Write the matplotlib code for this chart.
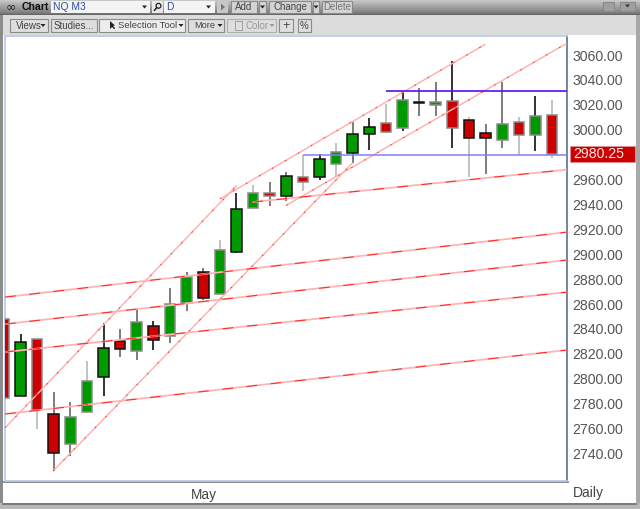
import matplotlib
matplotlib.use("Agg")
import matplotlib.pyplot as plt
from matplotlib.patches import Rectangle, Polygon, Circle

plt.rcParams['font.family'] = ['Liberation Sans', 'DejaVu Sans']

# ---------- data ----------
opens = [2847.7,2786.4,2831.9,2771.6,2747.3,2773.0,2801.1,2830.5,2822.3,2842.6,2834.3,2860.6,2885.5,2868.3,2902.0,2937.4,2948.9,
         2947.0,2962.3,2961.8,2972.7,2981.5,2996.3,3005.6,3001.1,3021.7,3020.1,3023.1,3007.6,2997.1,2991.5,3006.2,2995.8,3011.8]
closes = [2784.3,2829.2,2775.1,2740.1,2769.5,2798.4,2824.4,2824.1,2845.3,2831.3,2860.0,2881.5,2864.6,2903.1,2936.1,2948.9,2947.0,
          2962.8,2958.2,2976.7,2982.3,2996.3,3001.9,2998.4,3023.9,3022.3,3022.5,3001.4,2993.1,2993.1,3004.8,2995.8,3011.0,2980.25]
highs = [2847.7,2835.9,2831.9,2789.3,2781.1,2814.2,2845.0,2840.0,2856.0,2846.4,2872.9,2885.5,2888.7,2911.4,2948.9,2955.4,2958.0,
         2966.3,2979.7,2980.5,2989.1,3006.4,3009.2,3020.7,3030.5,3033.3,3038.1,3055.0,3010.0,3004.3,3038.1,3010.0,3026.8,3023.9]
lows = [2784.3,2786.4,2759.4,2725.6,2737.9,2772.4,2786.4,2817.2,2815.0,2823.3,2828.4,2854.4,2863.2,2868.3,2901.2,2937.4,2938.7,
        2943.0,2951.0,2959.8,2962.3,2973.3,2983.7,2997.1,2999.2,3011.0,3011.0,2985.1,2962.3,2964.4,2985.5,2979.7,2982.9,2977.5]
wick_tone = [0,0,2,1,1,2,0,1,1,0,1,1,1,2,0,2,1,1,2,0,2,1,0,2,0,1,1,0,2,1,1,2,0,2]
edge_tone = [1,0,1,0,1,1,0,0,1,0,1,1,0,1,0,1,1,0,1,0,1,0,0,1,1,0,1,1,0,0,1,1,1,1]

# trend lines: (bar index, price) pairs
shallow_lines = [
    ((14.95, 2941.9), (33.9, 2968.0)),
    ((0.07, 2865.6), (33.9, 2917.8)),
    ((0.07, 2843.9), (33.9, 2895.4)),
    ((0.07, 2821.5), (33.9, 2869.6)),
    ((0.07, 2771.7), (33.9, 2823.1)),
]
steep_lines = [
    ((2.96, 2725.9), (21.0, 2973.5)),
    ((0.07, 2760.6), (14.02, 2955.4)),
    ((13.01, 2944.6), (29.0, 3068.8)),
    ((17.0, 2939.3), (33.88, 3069.4)),
]
level_upper = (22.99, 33.9, 3031.5)
level_lower = (17.99, 33.9, 2979.5)
last_price = 2980.25
price_ticks = [p for p in range(2740, 3061, 20) if p != 2980]

W, H = 640, 509
fig = plt.figure(figsize=(W/100, H/100), dpi=100, facecolor='#b4b4b4')

# ---------- window chrome ----------
bg = fig.add_axes([0, 0, 1, 1], zorder=0)
bg.set_xlim(0, W); bg.set_ylim(H, 0); bg.axis('off')
def rect(x0, y0, x1, y1, fc, ec='none', lw=0.8):
    bg.add_patch(Rectangle((x0, y0), x1-x0, y1-y0, fc=fc, ec=ec, lw=lw))
for y, c in zip(range(0, 15), ['#c8c8c8','#c0c0c0','#bababa','#b4b4b4','#aeaeae','#a8a8a8','#a2a2a2','#9c9c9c','#989898','#929292','#8c8c8c','#868686','#7e7e7e','#767676','#666666']):
    rect(0, y, W, y+1, c)
rect(3, 15, 636, 35, '#dcdcdc')
rect(0, 15, 3, H, '#8c8c8c')
rect(636, 15, W, H, '#a8a8a8')
rect(3, 35, 636, 503, '#ffffff')
rect(0, 503, W, H, '#b8b8b8')
bg.plot([3, 636], [503.5, 503.5], color='#707070', lw=1.2)
bg.plot([3, 568], [482, 482], color='#777777', lw=1.2)

def text(x, y, s, c='#444444', size=7.0, ha='left', **kw):
    bg.text(x, y, s, color=c, fontsize=size, ha=ha, va='center', **kw)
def button(x0, x1, y0, y1, s='', c='#444444', fc='#dedede', size=7.0, ec='#8a8a8a'):
    rect(x0, y0, x1, y1, fc, ec=ec, lw=0.8)
    if s:
        text((x0+x1)/2, (y0+y1)/2, s, c=c, size=size, ha='center')
def arrow(x, y, c='#222222'):
    bg.add_patch(Polygon([[x-2.5, y-1.5], [x+2.5, y-1.5], [x, y+1.5]], fc=c))

text(22, 7, 'Chart', c='#111111', size=7.6, fontweight='bold')
bg.text(11, 7, '\u221e', color='#222222', fontsize=9, ha='center', va='center', family='DejaVu Sans')
rect(51, 1, 150, 13, '#f4f4f4'); text(53, 7, 'NQ M3', c='#3050a0', size=7.4)
rect(152, 1, 163, 13, '#e8e8e8')
bg.add_patch(Circle((158.5, 5.8), 2.4, fc='none', ec='#222222', lw=0.9))
bg.plot([156.8, 154.5], [7.6, 10.3], color='#222222', lw=1.1)
rect(164, 1, 215, 13, '#f4f4f4'); text(166, 7, 'D', c='#3050a0', size=7.4)
arrow(144.5, 7); arrow(208.5, 7)
rect(217, 1, 228, 13, '#c8c8c8')
bg.add_patch(Polygon([[221,3.5],[221,10.5],[225,7]], fc='#777777'))
button(231, 257, 1, 13, 'Add', fc='#d4d4d4')
button(259, 266, 1, 13, fc='#d4d4d4'); arrow(262.5, 7)
button(269, 311, 1, 13, 'Change', fc='#d4d4d4')
button(313, 319, 1, 13, fc='#d4d4d4'); arrow(316, 7)
button(322, 352, 1, 13, 'Delete', c='#777777', fc='#d4d4d4')
button(603, 614, 2, 11, fc='#a0a0a0')
button(620, 635, 2, 11, fc='#a0a0a0')
arrow(627.5, 6, '#333333')

button(10, 48, 19, 32)
text(16, 25.5, 'Views'); arrow(43, 25.5)
button(51, 97, 19, 32, 'Studies...')
button(99, 185, 19, 32, fc='#ececec')
bg.add_patch(Polygon([[110,21],[110,29],[112,27],[114.5,29.5],[115,28],[113,26],[115,25.5]], fc='#222222'))
text(118, 25.5, 'Selection Tool', size=6.8); arrow(181, 25.5)
button(188, 224, 19, 32)
text(194, 25.5, 'More', size=6.6); arrow(220, 25.5)
button(227, 276, 19, 32, ec='#b0b0b0')
rect(235, 21, 242, 30, 'none', ec='#a0a0a0', lw=0.7)
text(245, 25.5, 'Color', c='#999999'); arrow(272, 25.5, '#999999')
button(279, 293, 19, 32, '+', size=9)
button(298, 311, 19, 32, '%')

# ---------- chart ----------
L, R, T, B = 5, 567, 36, 481
ax = fig.add_axes([L/W, 1-B/H, (R-L)/W, (B-T)/H], zorder=2)
ax.set_xlim(0.066, 33.9)
ax.set_ylim(2717.9, 3075.3)
for s, spine in ax.spines.items():
    spine.set_color('#b4c8e8'); spine.set_linewidth(1.2)
ax.spines['right'].set_color('#5a6f94')

GREEN, RED = '#009900', '#cc0000'
wick_colors = ['#111111', '#666666', '#b8b8b8']
edge_colors = ['#111111', '#8a8a8a']
xs = list(range(len(opens)))
for x, o, c, h, l, wt, et in zip(xs, opens, closes, highs, lows, wick_tone, edge_tone):
    ax.vlines(x, l, h, color=wick_colors[wt], lw=1.2, zorder=3)
    ax.bar(x, abs(c-o), bottom=min(o, c), width=0.64, color=GREEN if c >= o else RED,
           edgecolor=edge_colors[et], linewidth=1.1, zorder=4)

for (x0, y0), (x1, y1) in shallow_lines:
    ax.plot([x0, x1], [y0, y1], color='#ffb4b4', lw=1.3, zorder=5, solid_capstyle='butt')
    ax.plot([x0, x1], [y0, y1], color='#ff2020', lw=0.7, ls=(0, (11, 14)), zorder=6)
for (x0, y0), (x1, y1) in steep_lines:
    ax.plot([x0, x1], [y0, y1], color='#ffb0b0', lw=1.05, zorder=5, solid_capstyle='butt')
    ax.plot([x0, x1], [y0, y1], color='#ff2020', lw=0.6, ls=(0, (2, 16)), zorder=6)

ax.hlines(level_upper[2], level_upper[0], level_upper[1], color='#5a10f0', lw=1.2, zorder=6)
ax.hlines(level_lower[2], level_lower[0], level_lower[1], color='#8080f0', lw=1.1, zorder=6)

ax.yaxis.tick_right()
ax.set_yticks(price_ticks)
ax.set_yticklabels([f'{p:.2f}' for p in price_ticks], fontsize=10.2, color='#555555')
ax.tick_params(axis='y', length=0, pad=4)
ax.set_xticks([12.05])
ax.set_xticklabels(['May'], fontsize=9.8, color='#444444')
ax.tick_params(axis='x', length=0, pad=5)

tr = ax.get_yaxis_transform()
ax.add_patch(Rectangle((1.0053, last_price - 6.4), 0.1157, 12.85, transform=tr, clip_on=False,
                       fc=RED, ec='#e09090', lw=0.7, zorder=9))
ax.text(1.0107, last_price, f'{last_price:.2f}', transform=tr, clip_on=False,
        color='#ffe8e8', fontsize=10.2, va='center', ha='left', zorder=10)
text(588, 493, 'Daily', c='#444444', size=10, ha='center')

fig.savefig('out.png', dpi=100, facecolor=fig.get_facecolor())
